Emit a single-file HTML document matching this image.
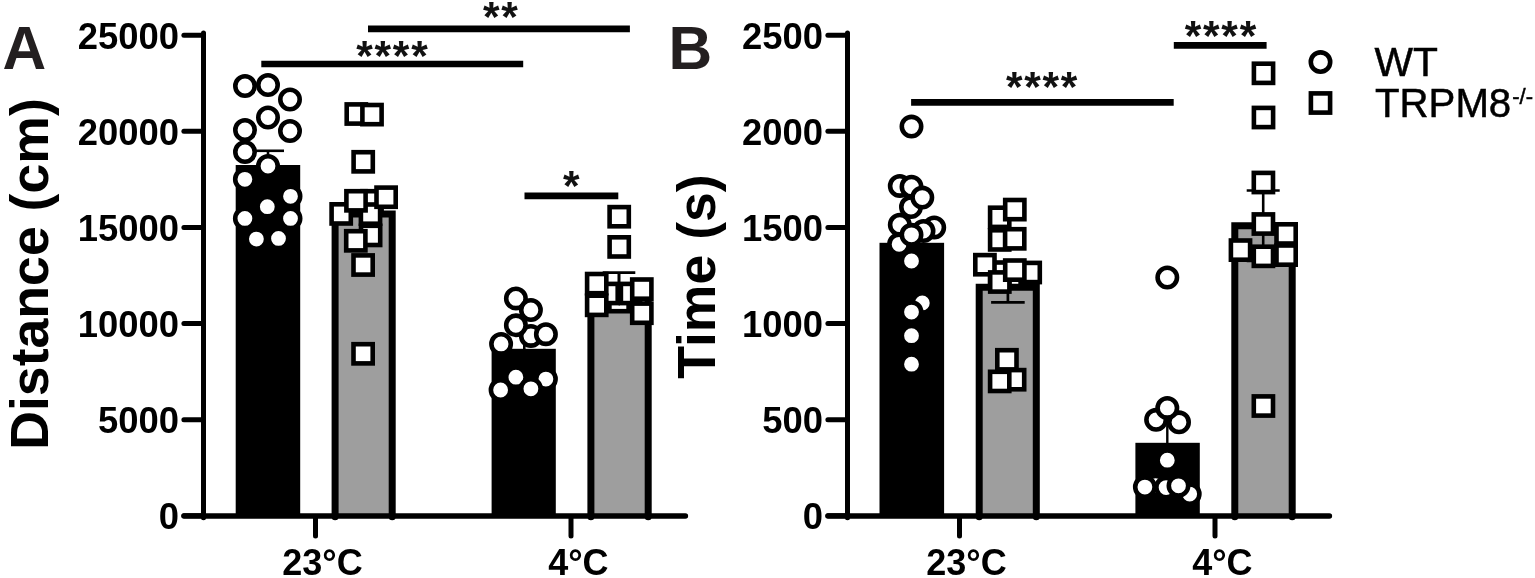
<!DOCTYPE html>
<html lang="en">
<head>
<meta charset="utf-8">
<title>Figure: Distance and Time, WT vs TRPM8-/-</title>
<style>
html,body{margin:0;padding:0;background:#fff;}
body{width:1535px;height:578px;overflow:hidden;}
svg{display:block;font-family:"Liberation Sans",Arial,Helvetica,sans-serif;}
.m{fill:#fff;stroke:#000;stroke-width:4.6;}
</style>
</head>
<body>
<svg width="1535" height="578" viewBox="0 0 1535 578">
<rect width="1535" height="578" fill="#fff"/>
<rect x="235.7" y="165.0" width="64.5" height="351.0" fill="#000"/>
<path d="M335.1 516.8 L335.1 214.0 L392.2 214.0 L392.2 516.8" fill="#9e9e9e" stroke="#000" stroke-width="7.0" stroke-linejoin="miter" stroke-linecap="round"/>
<rect x="491.6" y="348.8" width="64.2" height="167.2" fill="#000"/>
<path d="M590.9 516.8 L590.9 286.0 L648.2 286.0 L648.2 516.8" fill="#9e9e9e" stroke="#000" stroke-width="7.0" stroke-linejoin="miter" stroke-linecap="round"/>
<line x1="268.0" y1="150.8" x2="268.0" y2="165.0" stroke="#000" stroke-width="2.6" stroke-linecap="butt"/>
<line x1="252.0" y1="150.8" x2="284.0" y2="150.8" stroke="#000" stroke-width="2.6" stroke-linecap="butt"/>
<line x1="524.3" y1="338.0" x2="524.3" y2="349.0" stroke="#000" stroke-width="2.6" stroke-linecap="butt"/>
<line x1="619.0" y1="272.6" x2="619.0" y2="300.0" stroke="#000" stroke-width="2.6" stroke-linecap="butt"/>
<line x1="602.7" y1="272.6" x2="635.3" y2="272.6" stroke="#000" stroke-width="2.6" stroke-linecap="butt"/>
<circle cx="245.0" cy="86.0" r="9.7" class="m"/>
<circle cx="268.0" cy="85.0" r="9.7" class="m"/>
<circle cx="290.0" cy="99.5" r="9.7" class="m"/>
<circle cx="268.0" cy="117.5" r="9.7" class="m"/>
<circle cx="245.0" cy="130.0" r="9.7" class="m"/>
<circle cx="290.0" cy="131.0" r="9.7" class="m"/>
<circle cx="245.0" cy="152.0" r="9.7" class="m"/>
<circle cx="268.0" cy="166.0" r="9.7" class="m"/>
<circle cx="244.9" cy="179.3" r="9.7" class="m"/>
<circle cx="290.5" cy="196.3" r="9.7" class="m"/>
<circle cx="267.3" cy="206.7" r="9.7" class="m"/>
<circle cx="244.9" cy="218.4" r="9.7" class="m"/>
<circle cx="290.5" cy="218.4" r="9.7" class="m"/>
<circle cx="256.4" cy="239.1" r="9.7" class="m"/>
<circle cx="278.5" cy="238.4" r="9.7" class="m"/>
<rect x="362.4" y="191.2" width="19.2" height="19.2" class="m"/>
<rect x="360.9" y="204.5" width="19.2" height="19.2" class="m"/>
<rect x="361.0" y="225.8" width="19.2" height="19.2" class="m"/>
<rect x="331.6" y="204.3" width="19.2" height="19.2" class="m"/>
<rect x="346.4" y="191.2" width="19.2" height="19.2" class="m"/>
<rect x="376.5" y="187.6" width="19.2" height="19.2" class="m"/>
<rect x="346.2" y="231.2" width="19.2" height="19.2" class="m"/>
<rect x="353.5" y="255.4" width="19.2" height="19.2" class="m"/>
<rect x="346.7" y="104.4" width="19.2" height="19.2" class="m"/>
<rect x="362.4" y="105.0" width="19.2" height="19.2" class="m"/>
<rect x="353.6" y="152.2" width="19.2" height="19.2" class="m"/>
<rect x="353.5" y="344.2" width="19.2" height="19.2" class="m"/>
<circle cx="515.9" cy="298.4" r="9.7" class="m"/>
<circle cx="530.9" cy="335.9" r="9.7" class="m"/>
<circle cx="530.9" cy="310.0" r="9.7" class="m"/>
<circle cx="515.9" cy="325.3" r="9.7" class="m"/>
<circle cx="545.9" cy="334.2" r="9.7" class="m"/>
<circle cx="501.1" cy="343.9" r="9.7" class="m"/>
<circle cx="515.9" cy="377.2" r="9.7" class="m"/>
<circle cx="545.9" cy="379.1" r="9.7" class="m"/>
<circle cx="500.6" cy="390.0" r="9.7" class="m"/>
<circle cx="530.9" cy="388.8" r="9.7" class="m"/>
<rect x="609.4" y="292.0" width="19.2" height="19.2" class="m"/>
<rect x="598.5" y="283.9" width="19.2" height="19.2" class="m"/>
<rect x="620.9" y="283.9" width="19.2" height="19.2" class="m"/>
<rect x="587.1" y="274.0" width="19.2" height="19.2" class="m"/>
<rect x="587.1" y="295.7" width="19.2" height="19.2" class="m"/>
<rect x="632.2" y="279.5" width="19.2" height="19.2" class="m"/>
<rect x="632.2" y="303.6" width="19.2" height="19.2" class="m"/>
<rect x="609.6" y="207.1" width="19.2" height="19.2" class="m"/>
<rect x="609.6" y="237.3" width="19.2" height="19.2" class="m"/>
<line x1="619.0" y1="272.6" x2="619.0" y2="300.0" stroke="#000" stroke-width="2.6" stroke-linecap="butt"/>
<line x1="368.0" y1="28.9" x2="629.9" y2="28.9" stroke="#000" stroke-width="6.6" stroke-linecap="butt"/>
<text x="501.18" y="31.3" font-size="42.5" font-weight="bold" text-anchor="middle" fill="#111" letter-spacing="1.75">**</text>
<line x1="261.3" y1="64.0" x2="523.2" y2="64.0" stroke="#000" stroke-width="6.6" stroke-linecap="butt"/>
<text x="392.88" y="69.7" font-size="42.5" font-weight="bold" text-anchor="middle" fill="#111" letter-spacing="1.75">****</text>
<line x1="524.5" y1="195.9" x2="618.3" y2="195.9" stroke="#000" stroke-width="6.6" stroke-linecap="butt"/>
<text x="572.17" y="199.6" font-size="42.5" font-weight="bold" text-anchor="middle" fill="#111" letter-spacing="1.75">*</text>
<line x1="203.5" y1="33.0" x2="203.5" y2="517.8" stroke="#000" stroke-width="5" stroke-linecap="round"/>
<line x1="183.9" y1="515.8" x2="203.5" y2="515.8" stroke="#000" stroke-width="5" stroke-linecap="round"/>
<text x="178.9" y="529.4" font-size="36.4" font-weight="bold" text-anchor="end" fill="#000" >0</text>
<line x1="183.9" y1="419.7" x2="203.5" y2="419.7" stroke="#000" stroke-width="5" stroke-linecap="round"/>
<text x="178.9" y="433.3" font-size="36.4" font-weight="bold" text-anchor="end" fill="#000" >5000</text>
<line x1="183.9" y1="323.6" x2="203.5" y2="323.6" stroke="#000" stroke-width="5" stroke-linecap="round"/>
<text x="178.9" y="337.2" font-size="36.4" font-weight="bold" text-anchor="end" fill="#000" >10000</text>
<line x1="183.9" y1="227.4" x2="203.5" y2="227.4" stroke="#000" stroke-width="5" stroke-linecap="round"/>
<text x="178.9" y="241.0" font-size="36.4" font-weight="bold" text-anchor="end" fill="#000" >15000</text>
<line x1="183.9" y1="131.3" x2="203.5" y2="131.3" stroke="#000" stroke-width="5" stroke-linecap="round"/>
<text x="178.9" y="144.9" font-size="36.4" font-weight="bold" text-anchor="end" fill="#000" >20000</text>
<line x1="183.9" y1="35.2" x2="203.5" y2="35.2" stroke="#000" stroke-width="5" stroke-linecap="round"/>
<text x="178.9" y="48.8" font-size="36.4" font-weight="bold" text-anchor="end" fill="#000" >25000</text>
<line x1="184.0" y1="516.0" x2="685.4" y2="516.0" stroke="#000" stroke-width="5.5" stroke-linecap="round"/>
<line x1="315.5" y1="517.5" x2="315.5" y2="536.0" stroke="#000" stroke-width="5" stroke-linecap="round"/>
<text x="322.5" y="574.6" font-size="36" font-weight="bold" text-anchor="middle" fill="#000" >23°C</text>
<line x1="571.0" y1="517.5" x2="571.0" y2="536.0" stroke="#000" stroke-width="5" stroke-linecap="round"/>
<text x="578.4" y="574.6" font-size="36" font-weight="bold" text-anchor="middle" fill="#000" >4°C</text>
<text x="2.6" y="69.0" font-size="60.5" font-weight="bold" text-anchor="start" fill="#231f20" >A</text>
<text transform="translate(48.3,274) rotate(-90)" font-size="53.6" font-weight="bold" text-anchor="middle" fill="#000">Distance (cm)</text>
<rect x="879.5" y="242.8" width="64.6" height="273.2" fill="#000"/>
<path d="M979.2 516.8 L979.2 287.2 L1036.3 287.2 L1036.3 516.8" fill="#9e9e9e" stroke="#000" stroke-width="7.0" stroke-linejoin="miter" stroke-linecap="round"/>
<rect x="1135.4" y="442.8" width="64.4" height="73.2" fill="#000"/>
<path d="M1234.8 516.8 L1234.8 225.7 L1292.2 225.7 L1292.2 516.8" fill="#9e9e9e" stroke="#000" stroke-width="7.0" stroke-linejoin="miter" stroke-linecap="round"/>
<line x1="911.5" y1="229.0" x2="911.5" y2="243.0" stroke="#000" stroke-width="2.4" stroke-linecap="butt"/>
<line x1="898.5" y1="229.0" x2="924.5" y2="229.0" stroke="#000" stroke-width="2.4" stroke-linecap="butt"/>
<line x1="1007.9" y1="272.0" x2="1007.9" y2="302.3" stroke="#000" stroke-width="2.7" stroke-linecap="butt"/>
<line x1="991.1" y1="272.0" x2="1024.7" y2="272.0" stroke="#000" stroke-width="2.7" stroke-linecap="butt"/>
<line x1="991.1" y1="302.3" x2="1024.7" y2="302.3" stroke="#000" stroke-width="2.7" stroke-linecap="butt"/>
<line x1="1167.3" y1="421.6" x2="1167.3" y2="443.0" stroke="#000" stroke-width="2.4" stroke-linecap="butt"/>
<line x1="1154.3" y1="421.6" x2="1180.3" y2="421.6" stroke="#000" stroke-width="2.4" stroke-linecap="butt"/>
<line x1="1263.2" y1="190.5" x2="1263.2" y2="261.0" stroke="#000" stroke-width="2.6" stroke-linecap="butt"/>
<line x1="1246.7" y1="190.5" x2="1279.7" y2="190.5" stroke="#000" stroke-width="2.6" stroke-linecap="butt"/>
<line x1="1246.7" y1="261.0" x2="1279.7" y2="261.0" stroke="#000" stroke-width="2.6" stroke-linecap="butt"/>
<circle cx="911.5" cy="126.6" r="9.7" class="m"/>
<circle cx="899.8" cy="185.9" r="9.7" class="m"/>
<circle cx="911.5" cy="186.7" r="9.7" class="m"/>
<circle cx="911.0" cy="207.1" r="9.7" class="m"/>
<circle cx="922.3" cy="197.6" r="9.7" class="m"/>
<circle cx="899.8" cy="224.7" r="9.7" class="m"/>
<circle cx="934.2" cy="227.4" r="9.7" class="m"/>
<circle cx="923.5" cy="231.0" r="9.7" class="m"/>
<circle cx="899.1" cy="244.3" r="9.7" class="m"/>
<circle cx="911.5" cy="234.8" r="9.7" class="m"/>
<circle cx="911.5" cy="261.0" r="9.7" class="m"/>
<circle cx="922.3" cy="302.9" r="9.7" class="m"/>
<circle cx="911.5" cy="312.1" r="9.7" class="m"/>
<circle cx="911.5" cy="335.7" r="9.7" class="m"/>
<circle cx="911.5" cy="364.2" r="9.7" class="m"/>
<rect x="990.1" y="207.7" width="19.2" height="19.2" class="m"/>
<rect x="1005.2" y="200.0" width="19.2" height="19.2" class="m"/>
<rect x="990.1" y="230.3" width="19.2" height="19.2" class="m"/>
<rect x="1005.1" y="229.2" width="19.2" height="19.2" class="m"/>
<rect x="990.1" y="262.5" width="19.2" height="19.2" class="m"/>
<rect x="1020.6" y="262.9" width="19.2" height="19.2" class="m"/>
<rect x="975.3" y="255.1" width="19.2" height="19.2" class="m"/>
<rect x="990.2" y="272.4" width="19.2" height="19.2" class="m"/>
<rect x="1005.2" y="260.5" width="19.2" height="19.2" class="m"/>
<rect x="1005.0" y="370.1" width="19.2" height="19.2" class="m"/>
<rect x="990.1" y="371.8" width="19.2" height="19.2" class="m"/>
<rect x="997.3" y="350.2" width="19.2" height="19.2" class="m"/>
<circle cx="1167.3" cy="277.5" r="9.7" class="m"/>
<circle cx="1156.1" cy="419.8" r="9.7" class="m"/>
<circle cx="1179.0" cy="422.3" r="9.7" class="m"/>
<circle cx="1167.3" cy="407.9" r="9.7" class="m"/>
<circle cx="1167.3" cy="460.2" r="9.7" class="m"/>
<circle cx="1155.6" cy="485.6" r="9.7" class="m"/>
<circle cx="1144.9" cy="487.1" r="9.7" class="m"/>
<circle cx="1166.1" cy="487.6" r="9.7" class="m"/>
<circle cx="1189.7" cy="494.1" r="9.7" class="m"/>
<circle cx="1178.5" cy="485.8" r="9.7" class="m"/>
<rect x="1253.9" y="63.7" width="19.2" height="19.2" class="m"/>
<rect x="1253.9" y="107.9" width="19.2" height="19.2" class="m"/>
<rect x="1253.8" y="172.9" width="19.2" height="19.2" class="m"/>
<rect x="1276.5" y="224.3" width="19.2" height="19.2" class="m"/>
<rect x="1276.5" y="245.5" width="19.2" height="19.2" class="m"/>
<rect x="1230.9" y="240.5" width="19.2" height="19.2" class="m"/>
<rect x="1253.8" y="214.4" width="19.2" height="19.2" class="m"/>
<rect x="1253.8" y="246.7" width="19.2" height="19.2" class="m"/>
<rect x="1253.8" y="396.4" width="19.2" height="19.2" class="m"/>
<line x1="911.1" y1="102.3" x2="1173.7" y2="102.3" stroke="#000" stroke-width="6.7" stroke-linecap="butt"/>
<text x="1042.58" y="101.3" font-size="42.5" font-weight="bold" text-anchor="middle" fill="#111" letter-spacing="1.75">****</text>
<line x1="1173.8" y1="45.4" x2="1266.6" y2="45.4" stroke="#000" stroke-width="6.7" stroke-linecap="butt"/>
<text x="1221.38" y="49.8" font-size="42.5" font-weight="bold" text-anchor="middle" fill="#111" letter-spacing="1.75">****</text>
<line x1="847.5" y1="33.0" x2="847.5" y2="517.8" stroke="#000" stroke-width="5" stroke-linecap="round"/>
<line x1="827.9" y1="515.8" x2="847.5" y2="515.8" stroke="#000" stroke-width="5" stroke-linecap="round"/>
<text x="822.9" y="529.4" font-size="36.4" font-weight="bold" text-anchor="end" fill="#000" >0</text>
<line x1="827.9" y1="419.7" x2="847.5" y2="419.7" stroke="#000" stroke-width="5" stroke-linecap="round"/>
<text x="822.9" y="433.3" font-size="36.4" font-weight="bold" text-anchor="end" fill="#000" >500</text>
<line x1="827.9" y1="323.6" x2="847.5" y2="323.6" stroke="#000" stroke-width="5" stroke-linecap="round"/>
<text x="822.9" y="337.2" font-size="36.4" font-weight="bold" text-anchor="end" fill="#000" >1000</text>
<line x1="827.9" y1="227.4" x2="847.5" y2="227.4" stroke="#000" stroke-width="5" stroke-linecap="round"/>
<text x="822.9" y="241.0" font-size="36.4" font-weight="bold" text-anchor="end" fill="#000" >1500</text>
<line x1="827.9" y1="131.3" x2="847.5" y2="131.3" stroke="#000" stroke-width="5" stroke-linecap="round"/>
<text x="822.9" y="144.9" font-size="36.4" font-weight="bold" text-anchor="end" fill="#000" >2000</text>
<line x1="827.9" y1="35.2" x2="847.5" y2="35.2" stroke="#000" stroke-width="5" stroke-linecap="round"/>
<text x="822.9" y="48.8" font-size="36.4" font-weight="bold" text-anchor="end" fill="#000" >2500</text>
<line x1="828.0" y1="516.0" x2="1329.4" y2="516.0" stroke="#000" stroke-width="5.5" stroke-linecap="round"/>
<line x1="959.5" y1="517.5" x2="959.5" y2="536.0" stroke="#000" stroke-width="5" stroke-linecap="round"/>
<text x="966.5" y="574.6" font-size="36" font-weight="bold" text-anchor="middle" fill="#000" >23°C</text>
<line x1="1215.0" y1="517.5" x2="1215.0" y2="536.0" stroke="#000" stroke-width="5" stroke-linecap="round"/>
<text x="1222.4" y="574.6" font-size="36" font-weight="bold" text-anchor="middle" fill="#000" >4°C</text>
<text x="668.6" y="69.0" font-size="60.5" font-weight="bold" text-anchor="start" fill="#231f20" >B</text>
<text transform="translate(715,276.6) rotate(-90)" font-size="53.6" font-weight="bold" text-anchor="middle" fill="#000">Time (s)</text>
<circle cx="1320.5" cy="62.1" r="9.7" class="m"/>
<rect x="1310.9" y="93.4" width="19.2" height="19.2" class="m"/>
<text x="1374.6" y="76.3" font-size="40.8" font-weight="normal" text-anchor="start" fill="#000" stroke="#000" stroke-width="0.5">WT</text>
<text x="1375.0" y="116.9" font-size="40.2" font-weight="normal" fill="#000" stroke="#000" stroke-width="0.5">TRPM8<tspan font-size="22" dy="-13.2" dx="1">-/-</tspan></text>
</svg>
</body>
</html>
